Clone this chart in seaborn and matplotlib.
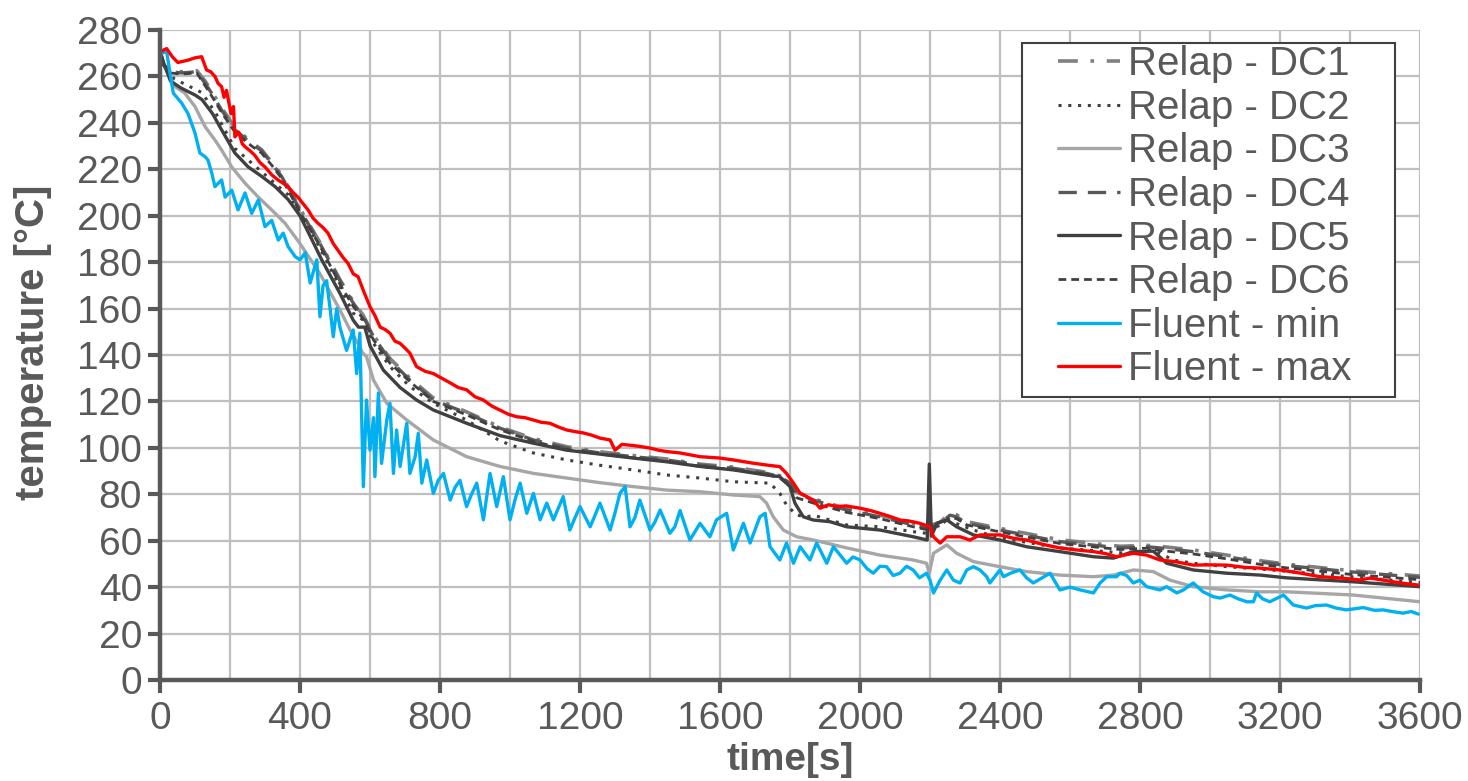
import matplotlib
matplotlib.use("Agg")
import matplotlib.pyplot as plt
from matplotlib.ticker import MultipleLocator
from matplotlib.patches import Rectangle
import seaborn as sns
import pandas as pd

# ---------------- data ----------------
dc5_t = [0, 10, 30, 60, 100, 120, 150, 176, 214, 252, 290, 329, 366, 400, 433, 462, 514, 552, 567, 585,
         600, 638, 686, 733, 781, 876, 971, 1067, 1162, 1257, 1352, 1448, 1543, 1638, 1733, 1771, 1800,
         1814, 1838, 1867, 1914, 1962, 2057, 2152, 2192, 2198, 2204, 2220, 2248, 2276, 2324, 2400, 2476,
         2571, 2667, 2724, 2781, 2838, 2876, 2952, 3048, 3143, 3219, 3409, 3600]
dc5_v = [271, 266, 258, 255, 252, 250, 244, 237, 227, 221, 217, 212.5, 207, 200, 190, 181, 166.6, 155,
         152, 152, 144, 133.5, 126, 120.6, 116.3, 110.6, 105.3, 102, 99, 97.3, 95.6, 94, 92, 90.5, 88.3,
         87.6, 83.3, 76.2, 70.3, 68.9, 68.2, 66, 64.6, 61.7, 60.3, 93, 62, 67.5, 69, 66, 62.5, 60.3,
         57.4, 55.3, 53.1, 52.5, 55.3, 55.5, 50.3, 47.4, 46, 45.2, 44, 42.3, 40.2]

dc3_t = [0, 10, 43, 71, 100, 129, 157, 176, 205, 243, 281, 319, 357, 400, 457, 514, 543, 571, 578,
         590, 610, 648, 705, 781, 876, 971, 1067, 1162, 1257, 1352, 1448, 1543, 1638, 1714, 1733, 1752,
         1781, 1819, 1867, 1962, 2057, 2152, 2190, 2198, 2210, 2248, 2276, 2324, 2400, 2476, 2571, 2667,
         2724, 2781, 2838, 2886, 2952, 3048, 3143, 3219, 3409, 3600]
dc3_v = [271, 265, 255.6, 252.8, 247, 238.3, 232.6, 228.3, 221, 214, 208, 202.5, 196.8, 188, 175,
         159.4, 150.8, 143.6, 141, 139.3, 129.2, 119.2, 112, 103.4, 96.2, 92, 89, 87, 85, 83.3, 81.8,
         81.1, 79.7, 79, 76.2, 70.3, 64.6, 61.7, 60.3, 56.9, 53.8, 51.7, 50.3, 46, 54.6, 58.2, 54.6, 51,
         48.8, 46.7, 45.2, 44.5, 45.2, 47.4, 46.7, 43, 40.2, 38.8, 38, 38, 36.6, 33.7]

dc2_t = [0, 10, 40, 80, 120, 160, 214, 290, 366, 433, 514, 552, 581, 610, 657, 714, 781, 876, 971,
         1067, 1162, 1257, 1352, 1448, 1543, 1638, 1743, 1771, 1790, 1819, 1848, 1867, 1962, 2057, 2152,
         2190, 2210, 2248, 2286, 2324, 2400, 2571, 2762, 2838, 2895, 2952, 3048, 3143, 3400, 3600]
dc2_v = [271, 266, 259, 256, 253, 244, 229, 219, 209, 193, 169.4, 158, 155, 145, 135, 126.4, 119.2,
         112, 103, 97.8, 94.8, 92.5, 90.5, 88.3, 87, 85.4, 84.8, 80.4, 75.4, 71, 70.3, 71, 66.8, 66,
         63.9, 63.2, 67, 68.9, 66.8, 64.6, 61.2, 56.9, 54.6, 56, 51.7, 50.3, 48.8, 47.8, 44.5, 42]

dash_t = [0, 10, 30, 60, 105, 129, 148, 176, 214, 262, 290, 319, 348, 400, 457, 514, 552, 581, 610,
          657, 714, 781, 876, 971, 1067, 1162, 1257, 1352, 1448, 1543, 1638, 1733, 1771, 1800, 1819,
          1867, 1962, 2057, 2152, 2190, 2229, 2257, 2276, 2305, 2400, 2571, 2743, 2819, 2857, 2952,
          3048, 3143, 3219, 3409, 3600]
dc4_v = [271, 265, 262, 261.5, 262, 257, 252.7, 245.5, 237, 231, 228, 222.6, 216.8, 202.5, 188, 172,
         162.4, 156.5, 147.9, 137.8, 129.2, 120.6, 115, 108.5, 103.4, 99.9, 97.8, 96.2, 94.8, 92.6,
         91.2, 89, 87.6, 84.8, 80.4, 77.5, 73.2, 70.3, 66.8, 65.5, 67.5, 71, 70.3, 67.5, 64.6, 59.6,
         56.9, 57.4, 56.9, 55.3, 53.1, 50.8, 49.3, 46.5, 44.2]
dc1_v = [271, 265, 262.5, 262, 262.5, 258, 253.5, 246.5, 238, 231.5, 228.5, 223, 217.5, 203, 188.5,
         172.5, 163, 157, 148.5, 138.5, 130, 121.5, 115.5, 109, 104, 100.5, 98.3, 96.7, 95.2, 93,
         91.7, 89.5, 88, 85.5, 81, 78, 73.8, 71, 67.5, 66, 68, 71.8, 71.2, 68.2, 65.3, 60.4, 57.6,
         58, 57.6, 56, 53.8, 51.4, 49.9, 47, 44.8]
dc6_v = [271, 265, 261.5, 261, 261.5, 256, 251.5, 244.5, 236, 230, 227, 221.8, 216, 201.5, 187, 170.5,
         161, 155.5, 146.5, 136.5, 128.5, 120, 114.2, 107.8, 102.8, 99.3, 97.3, 95.7, 94.2, 92, 90.6,
         88.5, 87, 83.5, 78.5, 76.2, 72.2, 69.5, 66, 64.8, 66.5, 70, 69.5, 66.8, 63.8, 58.8, 56.2,
         56.8, 55.8, 54.3, 52.2, 49.8, 48.3, 45.4, 43.2]

fmax_t = [0, 5, 19, 35, 51, 80, 100, 119, 133, 145, 157, 166, 176, 183, 190, 195, 203, 210, 214, 225,
          235, 243, 257, 271, 285, 300, 320, 337, 352, 366, 380, 394, 410, 423, 437, 451, 465, 480,
          495, 509, 523, 537, 552, 566, 583, 600, 614, 629, 643, 657, 671, 686, 700, 714, 733, 757,
          781, 805, 829, 852, 876, 900, 924, 948, 971, 995, 1019, 1043, 1067, 1090, 1114, 1138, 1162,
          1186, 1210, 1233, 1257, 1286, 1300, 1320, 1352, 1376, 1400, 1424, 1448, 1486, 1543, 1600,
          1638, 1690, 1733, 1771, 1790, 1810, 1829, 1848, 1866, 1886, 1910, 1934, 1960, 2000, 2030,
          2057, 2085, 2114, 2140, 2171, 2200, 2210, 2229, 2248, 2286, 2314, 2343, 2400, 2440, 2476,
          2520, 2571, 2620, 2667, 2700, 2733, 2781, 2819, 2857, 2900, 2952, 3000, 3048, 3100, 3143,
          3200, 3260, 3314, 3370, 3429, 3457, 3524, 3560, 3595]
fmax_v = [270, 271, 272, 268.5, 266, 267, 268, 268.5, 262.8, 262, 260, 257, 255.6, 251, 254, 250, 244,
          247, 234, 236, 231, 229.7, 228, 226, 223, 221, 217.5, 215.4, 214, 212.5, 210, 208, 205,
          202.5, 199, 196.8, 195, 192.5, 188, 185, 182, 179.5, 175, 173.7, 167, 160.8, 157, 152, 151,
          149.4, 146, 145, 143, 140.8, 135, 133, 132, 130, 128, 126, 125, 122, 120.6, 118, 116.3,
          114.5, 113.4, 113, 112, 111, 110.6, 109, 107.7, 107, 106.4, 105.5, 104.2, 103.4, 99, 101.5,
          101, 100.5, 99.9, 99, 98.4, 97.8, 96.2, 95.6, 94.8, 93.5, 92.6, 91.9, 89, 84.8, 80.4, 79,
          77.5, 74, 75.5, 74.7, 75, 74, 73, 71.8, 70.5, 68.9, 68.5, 67.5, 66, 61.7, 59, 61.7, 61.7,
          60.3, 62.5, 62.5, 61, 60.3, 58.5, 56.9, 56, 55.3, 54.5, 53.1, 54.6, 53.8, 51.7, 51, 49.5,
          49.6, 49.5, 48.5, 48.2, 47.4, 46, 44.5, 44, 43.1, 43.9, 42.3, 41.5, 40.9]

fmin_t = [0, 5, 19, 29, 38, 62, 80, 100, 114, 129, 137, 148, 157, 176, 186, 205, 223, 243, 262, 281,
          300, 319, 338, 352, 366, 386, 400, 415, 429, 448, 457, 466, 476, 486, 495, 505, 514, 533,
          552, 562, 571, 576, 581, 590, 600, 610, 614, 624, 633, 648, 657, 667, 676, 686, 705, 714,
          729, 738, 748, 762, 781, 795, 810, 829, 843, 857, 876, 890, 905, 924, 943, 962, 981, 1000,
          1015, 1029, 1048, 1067, 1086, 1105, 1124, 1138, 1152, 1171, 1186, 1200, 1229, 1243, 1257,
          1286, 1300, 1314, 1329, 1343, 1357, 1371, 1400, 1414, 1429, 1457, 1471, 1486, 1514, 1543,
          1571, 1590, 1619, 1638, 1667, 1686, 1714, 1729, 1743, 1771, 1790, 1810, 1829, 1857, 1876,
          1905, 1924, 1962, 1980, 2000, 2020, 2038, 2057, 2076, 2095, 2114, 2133, 2152, 2170, 2190,
          2200, 2210, 2229, 2248, 2267, 2286, 2305, 2324, 2343, 2362, 2371, 2400, 2410, 2430, 2457,
          2476, 2495, 2520, 2543, 2571, 2600, 2629, 2667, 2686, 2705, 2733, 2743, 2762, 2781, 2800,
          2819, 2857, 2876, 2905, 2924, 2952, 2980, 3009, 3029, 3057, 3080, 3105, 3124, 3133, 3150,
          3171, 3210, 3238, 3276, 3300, 3333, 3360, 3390, 3438, 3470, 3495, 3520, 3552, 3575, 3595]
fmin_v = [269, 270, 270.7, 261, 252.8, 248.5, 244, 235.6, 227, 225.4, 224, 218.3, 212.5, 215.4, 208,
          211, 202.5, 209.8, 201, 206.8, 195.3, 198, 189.5, 192.5, 186.7, 182.4, 181, 184, 171, 181,
          156.5, 170, 172, 160, 147.9, 160, 152, 142, 150.8, 132, 149.4, 115, 83.3, 120.6, 99, 113,
          87.6, 123.6, 93.3, 112, 119.2, 89, 107.7, 92, 110.6, 89, 96.2, 106.3, 84.8, 94.8, 80.4, 86,
          89, 77.5, 83, 86, 74.7, 80, 84.8, 69, 89, 74.7, 87.6, 69, 78, 84.8, 71.8, 80.4, 69, 76.2,
          69, 74, 79, 64.6, 70, 74.7, 66, 71, 76.2, 64.6, 72, 80.4, 83.3, 66, 70, 77.5, 64.6, 68,
          73.2, 63.2, 66, 73, 60.3, 67.5, 61.7, 69, 71.8, 56, 67.5, 59, 70.3, 71.8, 57.4, 51.7, 59,
          50.3, 57.4, 51.7, 59, 50.3, 57.4, 50.3, 53, 51.7, 48, 46, 49, 48.8, 45, 46, 49, 47.4, 44,
          46, 43, 37.5, 43, 47.4, 43, 41.8, 47.4, 48.8, 47.4, 44.5, 41.8, 47.4, 44.5, 46, 47.4, 44,
          41.8, 44, 46, 38.8, 40, 38.8, 37.5, 41.8, 44.5, 44.5, 46, 45, 41.8, 43, 40.2, 38.8, 40.2,
          37.5, 38.8, 41.8, 38, 35.9, 35.3, 36.6, 35, 33.7, 33.7, 37.5, 35, 33.7, 36.6, 32.3, 31, 32,
          32.3, 31, 30.2, 31.2, 30, 30.2, 29.5, 28.8, 29.5, 28.4]

x_ticks = [0, 400, 800, 1200, 1600, 2000, 2400, 2800, 3200, 3600]
y_ticks = list(range(0, 281, 20))

# ---------------- styling ----------------
sns.set_theme(style="white")
plt.rcParams["font.family"] = ["Liberation Sans", "DejaVu Sans"]
TXT = "#595959"
W, H = 1468, 781

fig = plt.figure(figsize=(14.68, 7.81), dpi=100)
ax = fig.add_axes([160 / W, 1 - 680 / H, 1260 / W, 650 / H])

series = [
    ("Relap - DC1", dash_t, dc1_v, dict(color="#808080", lw=2.6, ls=(0, (5.5, 3.5, 1, 3.5)))),
    ("Relap - DC2", dc2_t, dc2_v, dict(color="#404040", lw=2.2, ls=(0, (1, 2.2)))),
    ("Relap - DC3", dc3_t, dc3_v, dict(color="#A6A6A6", lw=2.4, ls="-")),
    ("Relap - DC4", dash_t, dc4_v, dict(color="#595959", lw=2.4, ls=(0, (5.5, 3.3)))),
    ("Relap - DC5", dc5_t, dc5_v, dict(color="#404040", lw=2.4, ls="-")),
    ("Relap - DC6", dash_t, dc6_v, dict(color="#404040", lw=2.0, ls=(0, (2.8, 1.8)))),
    ("Fluent - min", fmin_t, fmin_v, dict(color="#00B0F0", lw=2.4, ls="-")),
    ("Fluent - max", fmax_t, fmax_v, dict(color="#FF0000", lw=2.4, ls="-")),
]

for name, t, v, st in series:
    df = pd.DataFrame({"t": t, "T": v})
    sns.lineplot(data=df, x="t", y="T", ax=ax, estimator=None, sort=False,
                 color=st["color"], linewidth=st["lw"], linestyle=st["ls"], label=name)

ax.set_xlim(0, 3600)
ax.set_ylim(0, 280)
ax.set_xticks(x_ticks)
ax.set_yticks(y_ticks)
ax.xaxis.set_minor_locator(MultipleLocator(200))
ax.grid(True, which="major", axis="both", color="#BFBFBF", linewidth=1.6)
ax.grid(True, which="minor", axis="x", color="#BFBFBF", linewidth=1.6)
ax.set_axisbelow(True)

for s in ["top", "right"]:
    ax.spines[s].set_visible(False)
for s in ["left", "bottom"]:
    ax.spines[s].set_color(TXT)
    ax.spines[s].set_linewidth(3.2)

ax.tick_params(axis="both", which="major", direction="out", length=9, width=3, color=TXT,
               labelcolor=TXT, labelsize=28)
ax.tick_params(axis="x", which="major", pad=6, bottom=True)
ax.tick_params(axis="y", which="major", pad=4, left=True)
ax.tick_params(axis="x", which="minor", length=0)

ax.set_xlabel("time[s]", fontsize=28, fontweight="bold", color=TXT)
ax.set_ylabel("temperature [°C]", fontsize=29, fontweight="bold", color=TXT)
ax.xaxis.set_label_coords(0.5, -0.095)
ax.yaxis.set_label_coords(-0.086, 0.52)

# legend: entries placed without own frame; box drawn to the reference's size
leg = ax.legend(loc="upper left", bbox_to_anchor=(1058 / W, 1 - 45 / H),
                bbox_transform=fig.transFigure, borderaxespad=0, fontsize=29,
                frameon=False, handlelength=1.55, handletextpad=0.2,
                labelspacing=0.14, borderpad=0)
for txt in leg.get_texts():
    txt.set_color(TXT)
box = Rectangle((1022 / W, 1 - 397 / H), 373 / W, 354 / H, transform=fig.transFigure,
                facecolor="white", edgecolor="#404040", linewidth=1.5, clip_on=False, zorder=4.5)
ax.add_patch(box)

fig.savefig("out.png", dpi=100)
